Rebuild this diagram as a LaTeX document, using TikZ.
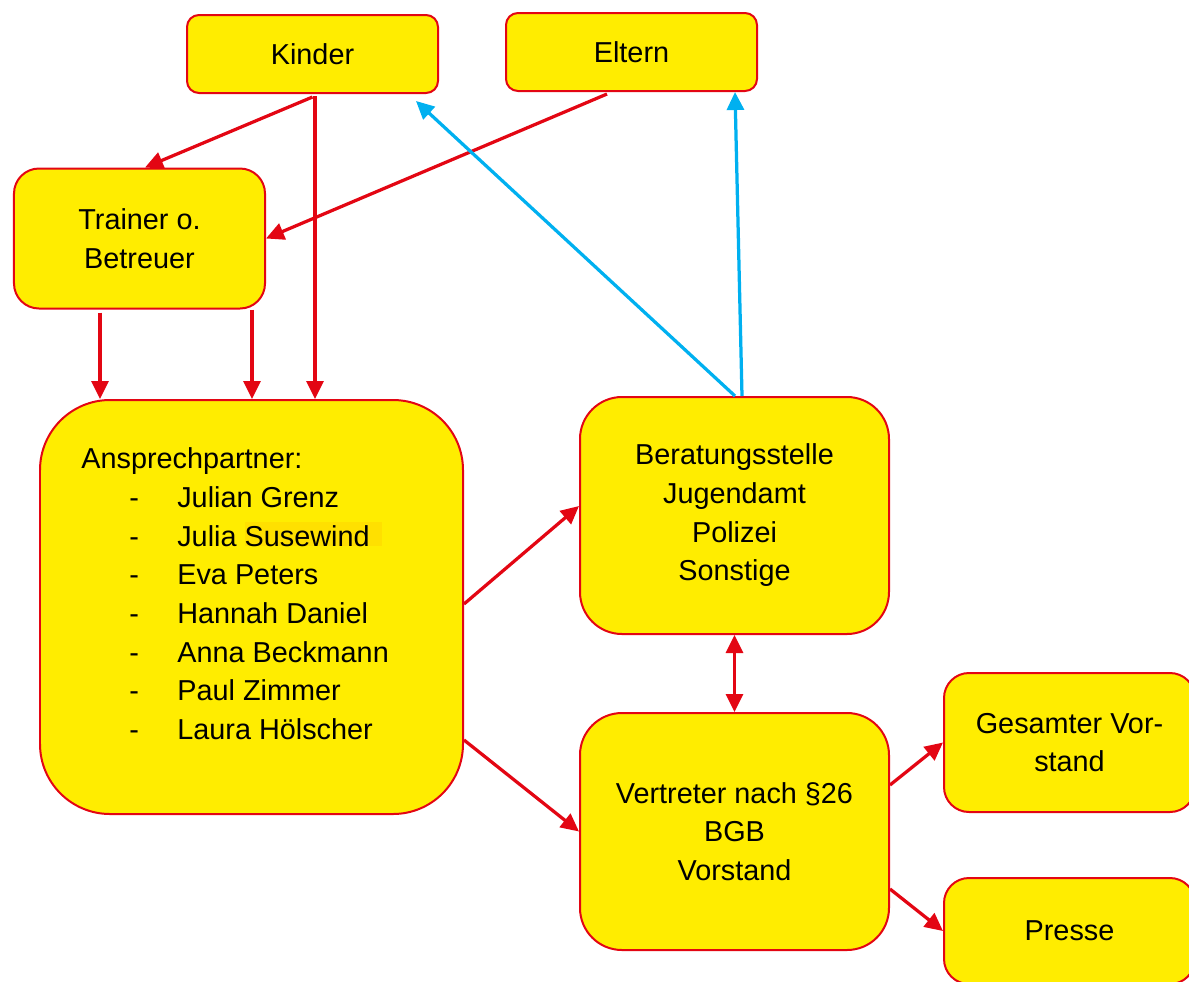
\documentclass[tikz,border=0pt]{standalone}
\usepackage{fontspec}
\setmainfont{Liberation Sans}
\usepackage{tikz}
\usetikzlibrary{arrows.meta}
\definecolor{cyellow}{HTML}{FFED00}
\definecolor{cred}{HTML}{E30613}
\definecolor{cblue}{HTML}{00B0F0}
\definecolor{cmark}{HTML}{FFE000}

\newcommand{\pers}[1]{\makebox[1.92cm][l]{\hspace{0.96cm}-}#1}
\newcommand{\marked}[1]{{\setlength{\fboxsep}{0pt}\colorbox{cmark}{\rule{0pt}{0.48cm}#1\hspace{0.25cm}}}}

\begin{document}
\begin{tikzpicture}[-,>={Triangle[length=0.36cm,width=0.34cm]},auto,
  box node/.style={rectangle,fill=cyellow,draw=cred,line width=0.04cm,align=center,
    inner sep=0pt,font=\fontsize{16.4}{22}\selectfont},
  top node/.style={box node,rounded corners=0.24cm,minimum width=5.02cm,minimum height=1.56cm},
  side node/.style={box node,rounded corners=0.5cm,minimum width=5.02cm,minimum height=2.8cm},
  mid node/.style={box node,rounded corners=0.84cm,minimum width=6.18cm,minimum height=4.74cm},
  red edge/.style={->,draw=cred,line width=0.065cm},
  blue edge/.style={->,draw=cblue,line width=0.065cm}]
  \useasboundingbox (0,0) rectangle (23.78,-19.62);

  \node[top node] (kinder) at (6.25,-1.08) {Kinder};
  \node[top node] (eltern) at (12.63,-1.04) {Eltern};
  \node[side node] (trainer) at (2.79,-4.77) {Trainer o.\\Betreuer};
  \node[box node,rounded corners=1.4cm,minimum width=8.46cm,minimum height=8.28cm] (ansp) at (5.03,-12.14) {};
  \node[anchor=north west,align=left,inner sep=0pt,font=\fontsize{16.4}{22}\selectfont] (liste)
    at ([xshift=0.84cm,yshift=-0.97cm]ansp.north west)
    {Ansprechpartner:\\
     \pers{Julian Grenz}\\
     \pers{Julia \marked{Susewind}}\\
     \pers{Eva Peters}\\
     \pers{Hannah Daniel}\\
     \pers{Anna Beckmann}\\
     \pers{Paul Zimmer}\\
     \pers{Laura Hölscher}};
  \node[mid node] (berat) at (14.69,-10.31) {Beratungsstelle\\Jugendamt\\Polizei\\Sonstige};
  \node[mid node] (vertreter) at (14.69,-16.63) {Vertreter nach §26\\BGB\\Vorstand};
  \node[side node,minimum height=2.78cm] (gesamt) at (21.39,-14.85) {Gesamter Vor-\\stand};
  \node[side node,minimum height=2.12cm] (presse) at (21.39,-18.62) {Presse};

  \path
    ([yshift=-0.06cm]kinder.south) edge[red edge] ([xshift=0.11cm]trainer.north)
    ([xshift=0.05cm,yshift=-0.04cm]kinder.south) edge[red edge] ([xshift=0.05cm]kinder.south |- ansp.north)
    ([xshift=-0.49cm,yshift=-0.04cm]eltern.south) edge[red edge] (trainer.east)
    ([xshift=-0.79cm,yshift=-0.06cm]trainer.south) edge[red edge] ([xshift=-0.79cm]trainer.south |- ansp.north)
    ([xshift=2.25cm]trainer.south) edge[red edge] ([xshift=2.25cm]trainer.south |- ansp.north)
    ([yshift=0.06cm]ansp.east) edge[red edge] ([yshift=0.19cm]berat.west)
    ([yshift=-2.66cm]ansp.east) edge[red edge] (vertreter.west)
    ([yshift=0.93cm]vertreter.east) edge[red edge] (gesamt.west)
    ([yshift=-1.15cm]vertreter.east) edge[red edge] (presse.west)
    (berat.south) edge[red edge,<->] (vertreter.north);
  \path
    ([xshift=0.01cm]berat.north) edge[blue edge] ([xshift=-0.46cm,yshift=-0.14cm]kinder.south east)
    ([xshift=0.15cm]berat.north) edge[blue edge] ([xshift=-0.46cm]eltern.south east);
\end{tikzpicture}
\end{document}
